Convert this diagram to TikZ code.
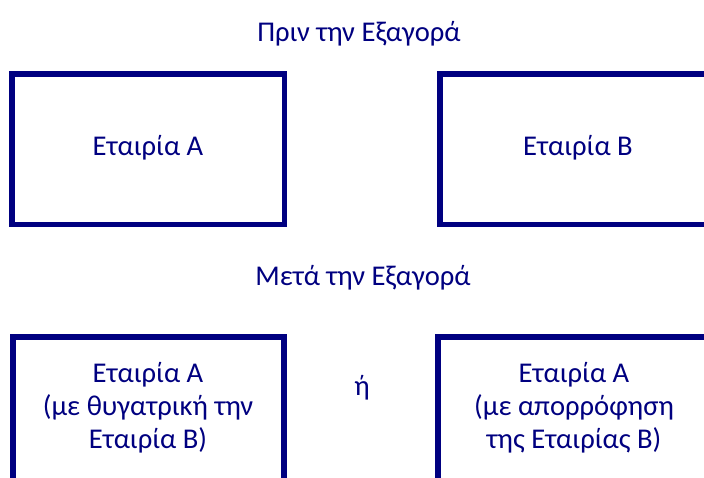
\documentclass[tikz,border=0pt]{standalone}
\usepackage{fontspec}
\setmainfont{Carlito}
\definecolor{navyline}{RGB}{0,0,128}
\definecolor{navytext}{RGB}{0,0,128}
\tikzset{
  firm/.style={draw=navyline, line width=5.5pt, rectangle, inner sep=0pt},
  caption/.style={text=navytext, font=\fontsize{28.6}{33}\selectfont, align=center, inner sep=0pt},
}
\begin{document}
\begin{tikzpicture}[x=1pt, y=-1pt]
  \clip (0,0) rectangle (704,478);
  \fill[white] (0,0) rectangle (704,478);

  % Before the acquisition
  \node[caption] (before) at (359,34) {Πριν την Εξαγορά};
  \node[firm, minimum width=272.5pt, minimum height=150.5pt] (boxA) at (148.25,149.25) {};
  \node[firm, minimum width=270pt, minimum height=150.5pt] (boxB) at (575,149.25) {};
  \node[caption] (firmA) at (148,148) {Εταιρία Α};
  \node[caption] (firmB) at (578,148) {Εταιρία Β};

  % After the acquisition
  \node[caption] (after) at (363,278) {Μετά την Εξαγορά};
  \node[firm, minimum width=271pt, minimum height=153pt] (boxSub) at (148.5,413.5) {};
  \node[firm, minimum width=272pt, minimum height=153pt] (boxMerge) at (574,413.5) {};
  \node[caption] (sub) at (148,408) {Εταιρία Α\\(με θυγατρική την\\Εταιρία Β)};
  \node[caption] (or) at (362,388) {ή};
  \node[caption] (merge) at (574,408) {Εταιρία Α\\(με απορρόφηση\\της Εταιρίας Β)};
\end{tikzpicture}
\end{document}
